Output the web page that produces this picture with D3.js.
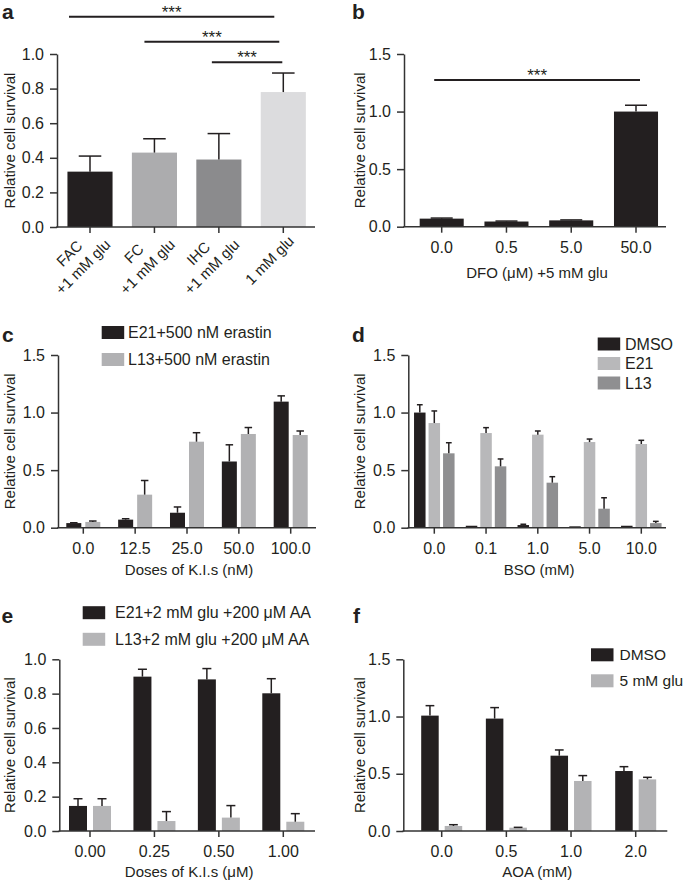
<!DOCTYPE html>
<html><head><meta charset="utf-8">
<script src="https://cdn.jsdelivr.net/npm/d3@7"></script>
<style>
body{margin:0;background:#fff}
svg{display:block}
text{font-family:"Liberation Sans",Arial,Helvetica,sans-serif;fill:#231f20}
</style>
</head><body>
<svg id="chart" width="685" height="884"></svg>
<script>
// ---------- DATA ----------
const yTitle = "Relative cell survival";

// Panel a
const aCategories = ["FAC\n+1 mM glu", "FC\n+1 mM glu", "IHC\n+1 mM glu", "1 mM glu"];
const aValues = [0.32, 0.43, 0.39, 0.78];
const aErrors = [0.09, 0.08, 0.15, 0.11];
const aTicks = [0, 0.2, 0.4, 0.6, 0.8, 1.0];
const aSig = [[0, 3, "***"], [1, 3, "***"], [2, 3, "***"]];

// Panel b
const bCategories = ["0.0", "0.5", "5.0", "50.0"];
const bValues = [0.07, 0.045, 0.055, 1.0];
const bErrors = [0.005, 0.004, 0.004, 0.055];
const bTicks = [0, 0.5, 1.0, 1.5];
const bSig = [[0, 3, "***"]];

// Panel c
const cCategories = ["0.0", "12.5", "25.0", "50.0", "100.0"];
const cSeriesNames = ["E21+500 nM erastin", "L13+500 nM erastin"];
const cE21 = [0.04, 0.07, 0.13, 0.575, 1.095];
const cE21Err = [0.003, 0.008, 0.05, 0.145, 0.05];
const cL13 = [0.05, 0.287, 0.747, 0.814, 0.805];
const cL13Err = [0.008, 0.123, 0.078, 0.056, 0.035];
const cTicks = [0, 0.5, 1.0, 1.5];

// Panel d
const dCategories = ["0.0", "0.1", "1.0", "5.0", "10.0"];
const dSeriesNames = ["DMSO", "E21", "L13"];
const dDMSO = [1.0, 0.017, 0.023, 0.012, 0.017];
const dDMSOErr = [0.068, 0, 0.007, 0, 0];
const dE21 = [0.909, 0.822, 0.808, 0.744, 0.727];
const dE21Err = [0.105, 0.047, 0.032, 0.026, 0.032];
const dL13 = [0.646, 0.533, 0.391, 0.165, 0.04];
const dL13Err = [0.092, 0.064, 0.052, 0.095, 0.015];
const dTicks = [0, 0.5, 1.0, 1.5];

// Panel e
const eCategories = ["0.00", "0.25", "0.50", "1.00"];
const eSeriesNames = ["E21+2 mM glu +200 \u03bcM AA", "L13+2 mM glu +200 \u03bcM AA"];
const eE21 = [0.146, 0.899, 0.883, 0.802];
const eE21Err = [0.042, 0.043, 0.063, 0.085];
const eL13 = [0.146, 0.058, 0.078, 0.054];
const eL13Err = [0.042, 0.055, 0.07, 0.047];
const eTicks = [0, 0.2, 0.4, 0.6, 0.8, 1.0];

// Panel f
const fCategories = ["0.0", "0.5", "1.0", "2.0"];
const fSeriesNames = ["DMSO", "5 mM glu"];
const fDMSO = [1.008, 0.982, 0.658, 0.524];
const fDMSOErr = [0.087, 0.096, 0.05, 0.038];
const fGlu = [0.044, 0.029, 0.437, 0.451];
const fGluErr = [0.011, 0.003, 0.047, 0.018];
const fTicks = [0, 0.5, 1.0, 1.5];

// ---------- DRAWING ----------
const svg = d3.select("#chart");
const INK = "#231f20";
const AXIS = "#333";

function panel(o) {
  const g = svg.append("g");
  const y = d3.scaleLinear().domain([0, o.yMax]).range([o.yBottom, o.yTop]);
  const x = d3.scaleBand().domain(o.categories)
    .range([o.firstCenter - o.step / 2, o.lastCenter + o.step / 2])
    .paddingInner(o.pi).paddingOuter(o.pi / 2);
  const sNames = o.series.map(s => s.name);
  const xs = d3.scaleBand().domain(sNames).range([0, x.bandwidth()])
    .paddingInner(o.innerPad || 0).paddingOuter(0);
  const bw = xs.bandwidth();

  // bars
  o.series.forEach(s => {
    const data = o.categories.map((c, i) => ({c, v: s.values[i], e: s.errors[i], color: s.colors ? s.colors[i] : s.color}));
    g.selectAll(null).data(data).enter().append("rect")
      .attr("x", d => x(d.c) + xs(s.name))
      .attr("y", d => y(d.v))
      .attr("width", bw)
      .attr("height", d => y(0) - y(d.v))
      .attr("fill", d => d.color);
    const eg = g.selectAll(null).data(data.filter(d => d.e > 0)).enter().append("g");
    eg.append("line")
      .attr("x1", d => x(d.c) + xs(s.name) + bw / 2)
      .attr("x2", d => x(d.c) + xs(s.name) + bw / 2)
      .attr("y1", d => y(d.v)).attr("y2", d => y(d.v + d.e))
      .attr("stroke", INK).attr("stroke-width", 1.5);
    eg.append("line")
      .attr("x1", d => x(d.c) + xs(s.name) + bw * 0.25)
      .attr("x2", d => x(d.c) + xs(s.name) + bw * 0.75)
      .attr("y1", d => y(d.v + d.e)).attr("y2", d => y(d.v + d.e))
      .attr("stroke", INK).attr("stroke-width", 1.5);
  });

  // y axis
  const ya = g.append("g").attr("transform", `translate(${o.axisX},0)`)
    .call(d3.axisLeft(y).tickValues(o.yTicks).tickFormat(d3.format(".1f")).tickSize(7).tickPadding(6).tickSizeOuter(0));
  ya.select(".domain").attr("stroke", AXIS).attr("stroke-width", 1.5);
  ya.selectAll(".tick line").attr("stroke", AXIS).attr("stroke-width", 1.5);
  ya.selectAll(".tick text").attr("font-size", 16).attr("fill", INK);

  // x axis
  const xa = g.append("g").attr("transform", `translate(0,${o.yBottom})`)
    .call(d3.axisBottom(x).tickSize(6).tickSizeOuter(0).tickPadding(8));
  xa.select(".domain").remove();
  xa.selectAll(".tick line").attr("stroke", AXIS).attr("stroke-width", 1.5);
  xa.selectAll(".tick text").remove();
  if (o.rotated) {
    o.categories.forEach(c => {
      const lines = c.split("\n");
      const tg = g.append("g")
        .attr("transform", `translate(${x(c) + x.bandwidth() / 2 - 14},${o.yBottom + 33}) rotate(-45)`);
      lines.forEach((t, i) => {
        tg.append("text").attr("text-anchor", "middle").attr("dominant-baseline", "central")
          .attr("y", (i - (lines.length - 1) / 2) * 19).attr("font-size", 15).text(t);
      });
    });
  } else {
    xa.selectAll(".tick").append("text")
      .attr("y", 26).attr("text-anchor", "middle").attr("font-size", 16).attr("fill", INK)
      .text(d => d);
  }
  g.append("line").attr("x1", o.axisX - 0.75).attr("x2", o.axisRight)
    .attr("y1", o.yBottom).attr("y2", o.yBottom)
    .attr("stroke", AXIS).attr("stroke-width", 1.5);

  // titles
  g.append("text").attr("transform", `translate(${o.yTitleX},${(o.yTop + o.yBottom) / 2}) rotate(-90)`)
    .attr("text-anchor", "middle").attr("font-size", 15).text(yTitle);
  if (o.xTitle) {
    g.append("text").attr("x", (o.axisX + o.axisRight) / 2 + 2).attr("y", o.xTitleY)
      .attr("text-anchor", "middle").attr("font-size", 15).text(o.xTitle);
  }
  g.append("text").attr("x", o.labelX).attr("y", o.labelY)
    .attr("font-size", 21).attr("font-weight", "bold").text(o.label);

  // legend
  if (o.legend) {
    o.series.forEach((s, i) => {
      const cy = o.legend.y + i * o.legend.dy;
      g.append("rect").attr("x", o.legend.x).attr("y", cy - 6.5).attr("width", 22.5).attr("height", 13)
        .attr("fill", s.color);
      g.append("text").attr("x", o.legend.textX).attr("y", cy).attr("dominant-baseline", "central")
        .attr("font-size", o.legend.fontSize || 16).text(s.name);
    });
  }

  // significance
  if (o.sig) {
    o.sig.forEach((s, i) => {
      const cx1 = x(o.categories[s[0]]) + x.bandwidth() / 2 + o.sigOffsets[i][0];
      const cx2 = x(o.categories[s[1]]) + x.bandwidth() / 2 + o.sigOffsets[i][1];
      const ly = o.sigY[i];
      g.append("line").attr("x1", cx1).attr("x2", cx2).attr("y1", ly).attr("y2", ly)
        .attr("stroke", INK).attr("stroke-width", 2);
      g.append("text").attr("x", (cx1 + cx2) / 2).attr("y", ly + 1).attr("text-anchor", "middle")
        .attr("font-size", 17).text(s[2]);
    });
  }
}

panel({
  label: "a", labelX: 2, labelY: 18.5,
  categories: aCategories,
  series: [{name: "a", values: aValues, errors: aErrors, colors: [INK, "#acacae", "#8b8b8d", "#dcdcde"]}],
  yMax: 1.0, yTicks: aTicks, yTop: 54, yBottom: 227,
  axisX: 57, axisRight: 315,
  firstCenter: 90, lastCenter: 283.3, step: 64.43, pi: 0.30,
  rotated: true, yTitleX: 15,
  sig: aSig, sigY: [16.7, 41.7, 62.3], sigOffsets: [[-21, -9], [-10, -4], [-7, -1]]
});

panel({
  label: "b", labelX: 352, labelY: 18.5,
  categories: bCategories,
  series: [{name: "b", values: bValues, errors: bErrors, color: INK}],
  yMax: 1.5, yTicks: bTicks, yTop: 54, yBottom: 226.7,
  axisX: 404, axisRight: 666,
  firstCenter: 441.7, lastCenter: 636, step: 64.77, pi: 0.32,
  xTitle: "DFO (\u03bcM) +5 mM glu", xTitleY: 278.3, yTitleX: 365,
  sig: bSig, sigY: [80], sigOffsets: [[-7.5, 4]]
});

panel({
  label: "c", labelX: 2, labelY: 341.7,
  categories: cCategories,
  series: [
    {name: cSeriesNames[0], values: cE21, errors: cE21Err, color: INK},
    {name: cSeriesNames[1], values: cL13, errors: cL13Err, color: "#b1b1b3"}
  ],
  yMax: 1.5, yTicks: cTicks, yTop: 355, yBottom: 527.7,
  axisX: 58, axisRight: 316,
  firstCenter: 83.3, lastCenter: 290.7, step: 51.85, pi: 0.344, innerPad: 0.21,
  xTitle: "Doses of K.I.s (nM)", xTitleY: 575, yTitleX: 15,
  legend: {x: 101.7, y: 332.5, dy: 27, textX: 128}
});

panel({
  label: "d", labelX: 352, labelY: 341.7,
  categories: dCategories,
  series: [
    {name: dSeriesNames[0], values: dDMSO, errors: dDMSOErr, color: INK},
    {name: dSeriesNames[1], values: dE21, errors: dE21Err, color: "#b8b8ba"},
    {name: dSeriesNames[2], values: dL13, errors: dL13Err, color: "#8f8f91"}
  ],
  yMax: 1.5, yTicks: dTicks, yTop: 355, yBottom: 527.7,
  axisX: 408.3, axisRight: 666,
  firstCenter: 434.3, lastCenter: 641.3, step: 51.75, pi: 0.217, innerPad: 0.207,
  xTitle: "BSO (mM)", xTitleY: 575, yTitleX: 365,
  legend: {x: 597.7, y: 344, dy: 19.5, textX: 625}
});

panel({
  label: "e", labelX: 1.5, labelY: 622.7,
  categories: eCategories,
  series: [
    {name: eSeriesNames[0], values: eE21, errors: eE21Err, color: INK},
    {name: eSeriesNames[1], values: eL13, errors: eL13Err, color: "#b5b5b7"}
  ],
  yMax: 1.0, yTicks: eTicks, yTop: 659.3, yBottom: 831,
  axisX: 59.3, axisRight: 315,
  firstCenter: 90, lastCenter: 283.3, step: 64.43, pi: 0.348, innerPad: 0.25,
  xTitle: "Doses of K.I.s (\u03bcM)", xTitleY: 877.3, yTitleX: 15,
  legend: {x: 82.7, y: 612.7, dy: 26.6, textX: 115}
});

panel({
  label: "f", labelX: 353, labelY: 622.7,
  categories: fCategories,
  series: [
    {name: fSeriesNames[0], values: fDMSO, errors: fDMSOErr, color: INK},
    {name: fSeriesNames[1], values: fGlu, errors: fGluErr, color: "#b3b3b5"}
  ],
  yMax: 1.5, yTicks: fTicks, yTop: 659.3, yBottom: 831,
  axisX: 403.3, axisRight: 667.3,
  firstCenter: 441.7, lastCenter: 635.7, step: 64.67, pi: 0.366, innerPad: 0.255,
  xTitle: "AOA (mM)", xTitleY: 877.3, yTitleX: 365,
  legend: {x: 591, y: 654.8, dy: 26, textX: 619.5, fontSize: 15.5}
});
</script>
</body></html>
